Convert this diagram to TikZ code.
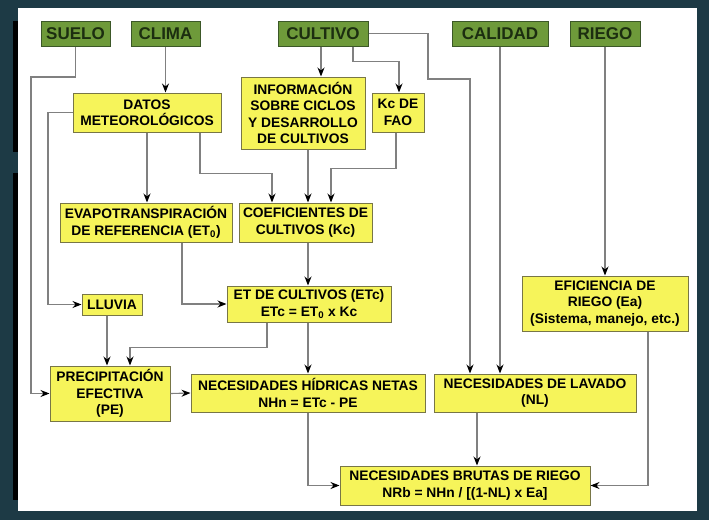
\documentclass[tikz,border=0pt]{standalone}
\usepackage{fontspec}
\setmainfont{Liberation Sans}
\usetikzlibrary{arrows.meta}
\definecolor{frame}{RGB}{29,58,69}
\definecolor{leaf}{RGB}{110,154,58}
\definecolor{leafline}{RGB}{60,88,40}
\definecolor{leaftext}{RGB}{28,46,16}
\definecolor{lemon}{RGB}{246,244,90}
\definecolor{lemonline}{RGB}{120,118,70}
\definecolor{wire}{RGB}{128,128,128}
\begin{document}
\begin{tikzpicture}[x=1pt,y=-1pt,
    factor/.style={draw=leafline,fill=leaf,text=leaftext,line width=1pt,inner sep=0pt,
      minimum height=25pt,font=\fontsize{17}{19}\selectfont\bfseries},
    box/.style={draw=lemonline,fill=lemon,line width=1pt,inner sep=0pt,align=center,
      font=\fontsize{13.8}{16.5}\selectfont\bfseries},
    link/.style={draw=wire,line width=1.1pt,-{Stealth[black,length=9pt,width=7pt]}}]
    \useasboundingbox (0,0) rectangle (709,520);
    \fill[frame] (0,0) rectangle (709,520);
    \fill[white] (18,8) rectangle (697,511);
    \fill[black] (13,21) rectangle (18,152);
    \fill[black] (13,173) rectangle (18,500);

    \node[factor,minimum width=69pt] (suelo) at (75.5,33.5) {SUELO};
    \node[factor,minimum width=69pt] (clima) at (165.5,33.5) {CLIMA};
    \node[factor,minimum width=90pt] (cultivo) at (323,33.5) {CULTIVO};
    \node[factor,minimum width=96pt] (calidad) at (500,33.5) {CALIDAD};
    \node[factor,minimum width=70pt] (riego) at (605,33.5) {RIEGO};

    \node[box,minimum width=148pt,minimum height=39pt] (datos) at (147,112.5) {DATOS\\METEOROLÓGICOS};
    \node[box,minimum width=124pt,minimum height=72pt] (info) at (303,113) {INFORMACIÓN\\SOBRE CICLOS\\Y DESARROLLO\\DE CULTIVOS};
    \node[box,minimum width=52pt,minimum height=39pt] (kcfao) at (398,112.5) {Kc DE\\FAO};
    \node[box,minimum width=172pt,minimum height=39pt] (evapo) at (146,222.5) {EVAPOTRANSPIRACIÓN\\DE REFERENCIA (ET\textsubscript{0})};
    \node[box,minimum width=133pt,minimum height=39pt] (coef) at (305.5,222.5) {COEFICIENTES DE\\CULTIVOS (Kc)};
    \node[box,minimum width=60pt,minimum height=21pt] (lluvia) at (112,304.5) {LLUVIA};
    \node[box,minimum width=164pt,minimum height=36pt] (etc) at (309,304) {ET DE CULTIVOS (ETc)\\ETc = ET\textsubscript{0} x Kc};
    \node[box,minimum width=166pt,minimum height=55pt] (efic) at (605,303.5) {EFICIENCIA DE\\RIEGO (Ea)\\(Sistema, manejo, etc.)};
    \node[box,minimum width=120pt,minimum height=55pt] (pe) at (110,393.5) {PRECIPITACIÓN\\EFECTIVA\\(PE)};
    \node[box,minimum width=234pt,minimum height=38pt] (nhn) at (308,393) {NECESIDADES HÍDRICAS NETAS\\NHn = ETc - PE};
    \node[box,minimum width=202pt,minimum height=38pt] (nl) at (535,393) {NECESIDADES DE LAVADO\\(NL)};
    \node[box,minimum width=250pt,minimum height=39pt] (nrb) at (465,485.5) {NECESIDADES BRUTAS DE RIEGO\\NRb = NHn / [(1-NL) x Ea]};

    % top row
    \draw[link] (suelo.south) |- (31,77) |- (pe.west);
    \draw[link] (clima.south) -- (clima.south |- datos.north);
    \draw[link] ([xshift=-2]cultivo.south) -- ([xshift=18]info.north);
    \draw[link] ([xshift=30]cultivo.south) -- ++(0,15) -| ([xshift=1]kcfao.north);
    \draw[link] (cultivo.east) -| (428,79) -| ([xshift=-65]nl.north);
    \draw[link] (calidad.south) -- (calidad.south |- nl.north);
    \draw[link] (riego.south) -- (efic.north);

    % middle
    \draw[link] (datos.west) -- (48,112.5) |- (lluvia.west);
    \draw[link] (datos.south) -- (datos.south |- evapo.north);
    \draw[link] ([xshift=53]datos.south) -- ++(0,41) -| ([xshift=-33.5]coef.north);
    \draw[link] ([xshift=5]info.south) -- ([xshift=2.5]coef.north);
    \draw[link] ([xshift=-2]kcfao.south) -- ++(0,36) -| ([xshift=25.5]coef.north);
    \draw[link] ([xshift=36]evapo.south) |- (etc.west);
    \draw[link] ([xshift=2.5]coef.south) -- ([xshift=-1]etc.north);

    % bottom
    \draw[link] ([xshift=-42]etc.south) -- ++(0,25) -| ([xshift=20]pe.north);
    \draw[link] ([xshift=-5]lluvia.south) -- ([xshift=-3]pe.north);
    \draw[link] ([xshift=-1]etc.south) -- (nhn.north);
    \draw[link] (pe.east) -- (nhn.west);
    \draw[link] (nhn.south) |- (nrb.west);
    \draw[link] ([xshift=-58]nl.south) -- ([xshift=12]nrb.north);
    \draw[link] ([xshift=43]efic.south) |- (nrb.east);
\end{tikzpicture}
\end{document}
